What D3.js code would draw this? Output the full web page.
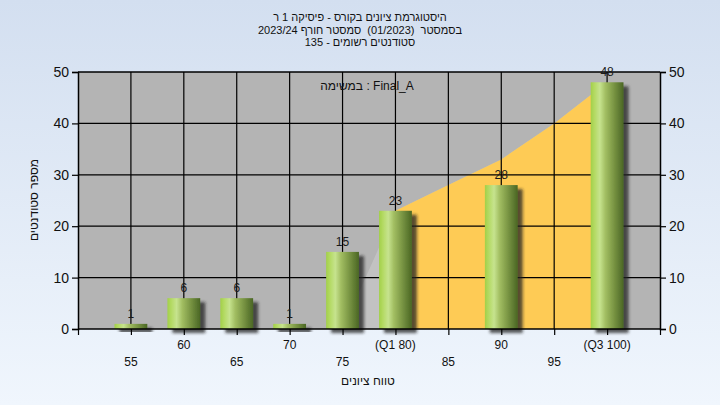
<!DOCTYPE html>
<html><head><meta charset="utf-8">
<script src="https://cdn.jsdelivr.net/npm/d3@7"></script>
<style>
html,body{margin:0;padding:0;overflow:hidden;}
text{font-family:"Liberation Sans","DejaVu Sans",Arial,sans-serif;}
</style></head>
<body><svg id="c" width="720" height="405"></svg>
<script>
const titleLines = ["היסטוגרמת ציונים בקורס - פיסיקה 1 ר", "בסמסטר  (01/2023)  סמסטר חורף 2023/24", "סטודנטים רשומים - 135"];
const annotation = "במשימה : Final_A";
const grades = [55, 60, 65, 70, 75, 80, 85, 90, 95, 100];
const counts = [1, 6, 6, 1, 15, 23, 0, 28, 0, 48];
const xTickLabels = ["55", "60", "65", "70", "75", "(Q1 80)", "85", "90", "95", "(Q3 100)"];
const areaGrades = [75, 80, 85, 90, 95, 100];
const areaValues = [0, 23, 28, 33, 40, 48];
const q1 = 80, q3 = 100;
const yTicks = [0, 10, 20, 30, 40, 50];
const xTitle = "טווח ציונים";
const yTitle = "מספר סטודנטים";

const svg = d3.select("#c");
const defs = svg.append("defs");
const bg = defs.append("linearGradient").attr("id","bg").attr("x1",0).attr("y1",0).attr("x2",0).attr("y2",1);
bg.append("stop").attr("offset","0%").attr("stop-color","#d3dff0");
bg.append("stop").attr("offset","100%").attr("stop-color","#f0f6fd");
const bar = defs.append("linearGradient").attr("id","bar").attr("x1",0).attr("y1",0).attr("x2",1).attr("y2",0);
[["0%","#a2d048"],["12%","#b4da64"],["28%","#c6e38e"],["45%","#a2be62"],["70%","#7a9644"],["100%","#4a6624"]].forEach(s=>bar.append("stop").attr("offset",s[0]).attr("stop-color",s[1]));
const f = defs.append("filter").attr("id","sh").attr("x","-20%").attr("y","-20%").attr("width","160%").attr("height","160%");
f.append("feDropShadow").attr("dx",5).attr("dy",4).attr("stdDeviation",1.8).attr("flood-color","#222").attr("flood-opacity",0.75);

svg.append("rect").attr("width",720).attr("height",405).attr("fill","url(#bg)");

const x = d3.scaleLinear().domain([50,105]).range([78,660]);
const y = d3.scaleLinear().domain([0,50]).range([329,72]);

// plot bg
svg.append("rect").attr("x",x(50)).attr("y",y(50)).attr("width",x(105)-x(50)).attr("height",y(0)-y(50)).attr("fill","#b4b4b4");

// area
const area = d3.area().x((d,i)=>x(areaGrades[i])).y0(y(0)).y1(d=>y(d));
defs.append("clipPath").attr("id","iqr").append("rect").attr("x",x(q1)).attr("y",y(50)).attr("width",x(q3)-x(q1)).attr("height",y(0)-y(50));
svg.append("path").attr("d",area(areaValues)).attr("fill","#c2c2c2");
svg.append("path").attr("d",area(areaValues)).attr("fill","#fecb55").attr("clip-path","url(#iqr)");

// grid
const g = svg.append("g");
grades.forEach(v=>g.append("line").attr("x1",x(v)).attr("x2",x(v)).attr("y1",y(0)).attr("y2",y(50)).attr("stroke","#000").attr("stroke-width",1.2));
yTicks.slice(1,-1).forEach(v=>g.append("line").attr("x1",x(50)).attr("x2",x(105)).attr("y1",y(v)).attr("y2",y(v)).attr("stroke","#000").attr("stroke-width",1.2));

// bars
const bw = x(51.55)-x(50);
const bd = grades.map((gv,i)=>({g:gv,v:counts[i]})).filter(d=>d.v>0);
svg.append("g").selectAll("rect").data(bd).join("rect")
  .attr("x",d=>x(d.g)-bw).attr("width",2*bw)
  .attr("y",d=>y(d.v)).attr("height",d=>y(0)-y(d.v))
  .attr("fill","url(#bar)").attr("filter","url(#sh)");

// axes
const yl = d3.axisLeft(y).tickValues(yTicks).tickSize(6).tickPadding(3);
const yr = d3.axisRight(y).tickValues(yTicks).tickSize(6).tickPadding(3);
const xb = d3.axisBottom(x).tickValues([50].concat(grades,[105])).tickSize(6).tickFormat("");
const ga = svg.append("g").attr("transform",`translate(${x(50)},0)`).call(yl);
const gr = svg.append("g").attr("transform",`translate(${x(105)},0)`).call(yr);
const gb = svg.append("g").attr("transform",`translate(0,${y(0)})`).call(xb);
svg.append("line").attr("x1",x(50)).attr("x2",x(105)).attr("y1",y(50)).attr("y2",y(50)).attr("stroke","#000").attr("stroke-width",1.5);
[ga,gr,gb].forEach(a=>{a.select(".domain").attr("stroke","#000").attr("stroke-width",1.5);a.selectAll(".tick line").attr("stroke","#000").attr("stroke-width",1.2);a.selectAll("text").attr("font-size",14).attr("fill","#111").style("font-family","Liberation Sans, DejaVu Sans, sans-serif");});
gb.select(".domain").attr("d",`M${x(50)},0H${x(105)}`);

// x tick labels staggered
svg.append("g").selectAll("text").data(grades).join("text")
  .attr("x",d=>x(d)).attr("y",(d,i)=>i%2===1?349:366)
  .attr("text-anchor","middle").attr("font-size",12).attr("fill","#111")
  .text((d,i)=>xTickLabels[i]);

// value labels
svg.append("g").selectAll("text").data(bd).join("text")
  .attr("x",d=>x(d.g)).attr("y",d=>y(d.v)-6)
  .attr("text-anchor","middle").attr("font-size",12).attr("fill","#1a1a1a").text(d=>d.v);

// titles
titleLines.forEach((t,i)=>svg.append("text").attr("x",360).attr("y",21+i*12.5).attr("text-anchor","middle").attr("direction","rtl").style("white-space","pre").attr("font-size",11).attr("fill","#111").text(t));
svg.append("text").attr("x",367).attr("y",90).attr("text-anchor","middle").attr("font-size",12).attr("fill","#111").text(annotation);
svg.append("text").attr("x",368).attr("y",385).attr("text-anchor","middle").attr("direction","rtl").attr("font-size",12).attr("fill","#111").text(xTitle);
svg.append("text").attr("transform",`translate(38,200) rotate(-90)`).attr("text-anchor","middle").attr("direction","rtl").attr("font-size",12).attr("fill","#111").text(yTitle);
</script></body></html>
